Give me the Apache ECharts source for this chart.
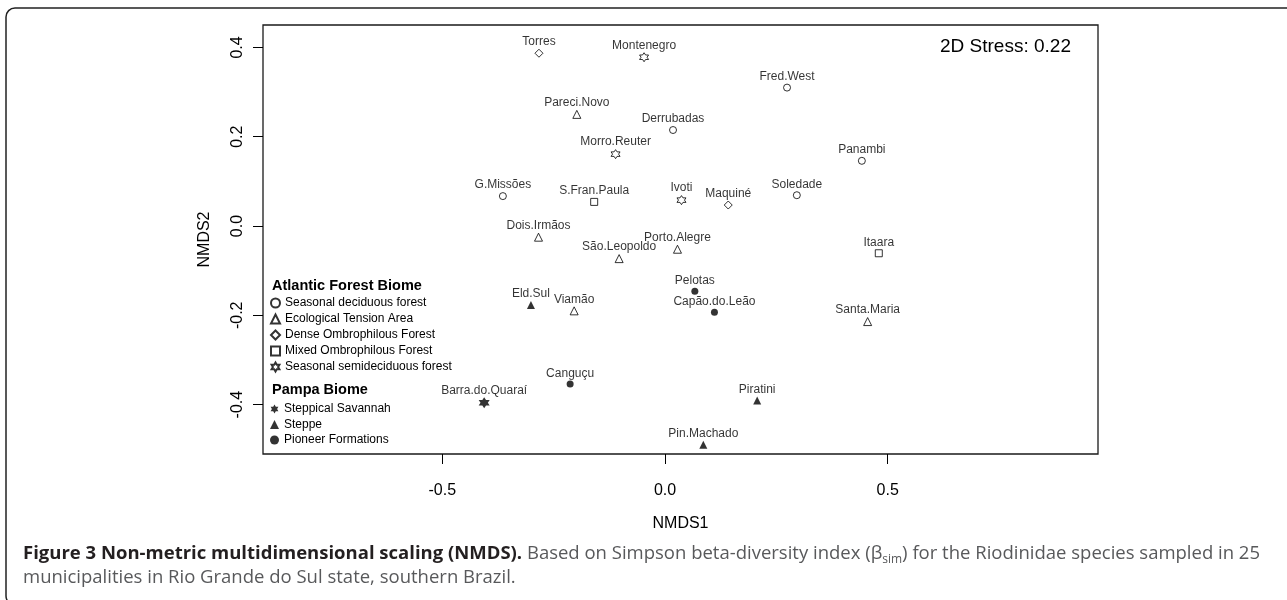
<!DOCTYPE html>
<html>
<head>
<meta charset="utf-8">
<title>NMDS</title>
<script src="https://cdn.jsdelivr.net/npm/echarts@6/dist/echarts.min.js"></script>
<style>
html, body { margin: 0; padding: 0; background: #fff; }
#nmds { width: 1287px; height: 600px; }
</style>
</head>
<body>
<div id="nmds"></div>
<script>
// sites and their NMDS scores
var siteNames = ['Torres', 'Montenegro', 'Fred.West', 'Pareci.Novo', 'Derrubadas', 'Morro.Reuter',
    'Panambi', 'G.Missões', 'S.Fran.Paula', 'Ivoti', 'Maquiné', 'Soledade', 'Dois.Irmãos',
    'São.Leopoldo', 'Porto.Alegre', 'Itaara', 'Pelotas', 'Eld.Sul', 'Viamão', 'Capão.do.Leão',
    'Santa.Maria', 'Canguçu', 'Barra.do.Quaraí', 'Piratini', 'Pin.Machado'];
var nmds1 = [-0.283, -0.047, 0.274, -0.198, 0.018, -0.111, 0.442, -0.364, -0.159, 0.037, 0.142, 0.296,
    -0.284, -0.103, 0.028, 0.480, 0.067, -0.301, -0.204, 0.111, 0.455, -0.213, -0.406, 0.207, 0.086];
var nmds2 = [0.387, 0.378, 0.310, 0.250, 0.215, 0.161, 0.146, 0.067, 0.054, 0.058, 0.047, 0.069,
    -0.025, -0.073, -0.052, -0.061, -0.146, -0.177, -0.190, -0.193, -0.214, -0.354, -0.396, -0.391, -0.490];
// index into groupNames
var siteGroup = [2, 4, 0, 1, 0, 4, 0, 0, 3, 4, 2, 0, 1, 1, 1, 3, 7, 6, 1, 7, 1, 7, 5, 6, 6];
var groupNames = ['Seasonal deciduous forest', 'Ecological Tension Area', 'Dense Ombrophilous Forest',
    'Mixed Ombrophilous Forest', 'Seasonal semideciduous forest',
    'Steppical Savannah', 'Steppe', 'Pioneer Formations'];
var atlanticGroups = [0, 1, 2, 3, 4];
var pampaGroups = [5, 6, 7];
var xTicks = [-0.5, 0, 0.5];
var yTicks = [-0.4, -0.2, 0, 0.2, 0.4];
var stressText = '2D Stress: 0.22';

var FONT = 'Liberation Sans, Arial, sans-serif';
var STAR = 'path://M100,0L128.9,50L186.6,50L157.7,100L186.6,150L128.9,150L100,200L71.1,150L13.4,150L42.3,100L13.4,50L71.1,50Z';

// marker look for each habitat group
var groupStyle = [
    {symbol: 'circle', size: 7, hollow: true},
    {symbol: 'triangle', size: 8, hollow: true},
    {symbol: 'diamond', size: 8, hollow: true},
    {symbol: 'rect', size: 7, hollow: true},
    {symbol: STAR, size: 9, hollow: true},
    {symbol: STAR, size: 11, hollow: false},
    {symbol: 'triangle', size: 8, hollow: false},
    {symbol: 'circle', size: 7, hollow: false}
];

function buildSeries() {
    var series = [];
    for (var g = 0; g < groupNames.length; g++) {
        var pts = [];
        for (var i = 0; i < siteNames.length; i++) {
            if (siteGroup[i] === g) pts.push([nmds1[i], nmds2[i], siteNames[i]]);
        }
        var st = groupStyle[g];
        series.push({
            name: groupNames[g],
            type: 'scatter',
            symbol: st.symbol,
            symbolSize: st.size,
            data: pts,
            itemStyle: st.hollow
                ? {color: '#fff', borderColor: '#000', borderWidth: 1}
                : {color: '#000', borderColor: '#000', borderWidth: 0},
            label: {
                show: true,
                position: 'top',
                distance: 1,
                formatter: function (p) { return p.data[2]; },
                fontFamily: FONT,
                fontSize: 12,
                color: '#000'
            },
            emphasis: {disabled: true}
        });
    }
    return series;
}

function legendBlock(groups, top, gap) {
    return {
        orient: 'vertical',
        left: 270,
        top: top,
        padding: 0,
        itemGap: gap,
        itemWidth: 9,
        itemHeight: 9,
        selectedMode: false,
        data: groups.map(function (g) { return groupNames[g]; }),
        textStyle: {fontFamily: FONT, fontSize: 12, color: '#000', lineHeight: 12}
    };
}

function drawChart() {
    var chart = echarts.init(document.getElementById('nmds'));
    var option = {
        animation: false,
        backgroundColor: '#fff',
        grid: {
            left: 263, top: 25, width: 835, height: 429,
            show: true, borderColor: '#1a1a1a', borderWidth: 1.3
        },
        xAxis: {
            type: 'value',
            min: -0.9026, max: 0.9722,
            name: 'NMDS1', nameLocation: 'middle', nameGap: 62,
            nameTextStyle: {fontFamily: FONT, fontSize: 16, color: '#000'},
            splitLine: {show: false},
            axisLine: {show: false, onZero: false},
            axisTick: {show: true, length: 10, customValues: xTicks, lineStyle: {color: '#000'}},
            axisLabel: {
                customValues: xTicks, margin: 29,
                fontFamily: FONT, fontSize: 16, color: '#000',
                formatter: function (v) { return v.toFixed(1); }
            }
        },
        yAxis: {
            type: 'value',
            min: -0.5106, max: 0.4502,
            name: 'NMDS2', nameLocation: 'middle', nameGap: 50,
            nameTextStyle: {fontFamily: FONT, fontSize: 16, color: '#000'},
            splitLine: {show: false},
            axisLine: {show: false, onZero: false},
            axisTick: {show: true, length: 10, customValues: yTicks, lineStyle: {color: '#000'}},
            axisLabel: {
                customValues: yTicks, margin: 17, rotate: 90,
                fontFamily: FONT, fontSize: 16, color: '#000',
                formatter: function (v) { return v.toFixed(1); }
            }
        },
        legend: [legendBlock(atlanticGroups, 297, 4), legendBlock(pampaGroups, 403, 3.5)],
        graphic: [
            {
                type: 'rect', z: -1, silent: true,
                shape: {x: 6, y: 8, width: 1290, height: 597, r: 9},
                style: {fill: 'none', stroke: '#222', lineWidth: 1.5}
            },
            {
                type: 'text', x: 940, y: 47,
                style: {text: stressText, fontFamily: FONT, fontSize: 19, fill: '#000', verticalAlign: 'middle'}
            },
            {
                type: 'text', x: 272, y: 286,
                style: {text: 'Atlantic Forest Biome', fontFamily: FONT, fontSize: 14.5, fontWeight: 'bold',
                    fill: '#000', verticalAlign: 'middle'}
            },
            {
                type: 'text', x: 272, y: 390,
                style: {text: 'Pampa Biome', fontFamily: FONT, fontSize: 14.5, fontWeight: 'bold',
                    fill: '#000', verticalAlign: 'middle'}
            },
            // figure caption
            {
                type: 'text', x: 23, y: 554,
                style: {
                    text: '{b|Figure 3 Non-metric multidimensional scaling (NMDS).}{n| Based on Simpson beta-diversity index (β}{s|sim}{n|) for the Riodinidae species sampled in 25}',
                    verticalAlign: 'middle',
                    rich: {
                        b: {fontFamily: 'Open Sans', fontSize: 18.5, fontWeight: 'bold', fill: '#231f20', lineHeight: 24},
                        n: {fontFamily: 'Open Sans', fontSize: 18.5, fill: '#58595b', lineHeight: 24},
                        s: {fontFamily: 'Open Sans', fontSize: 12, fill: '#58595b', lineHeight: 24, verticalAlign: 'bottom', padding: [10, 0, 0, 0]}
                    }
                }
            },
            {
                type: 'text', x: 23, y: 578,
                style: {
                    text: 'municipalities in Rio Grande do Sul state, southern Brazil.',
                    fontFamily: 'Open Sans', fontSize: 18.5, fill: '#58595b', verticalAlign: 'middle'
                }
            }
        ],
        series: buildSeries()
    };
    chart.setOption(option);
}

drawChart();
</script>
</body>
</html>
